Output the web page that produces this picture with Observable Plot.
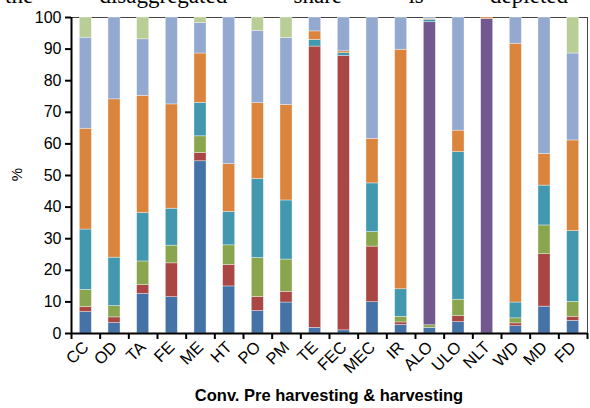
<!DOCTYPE html>
<html><head><meta charset="utf-8">
<script src="https://cdn.jsdelivr.net/npm/d3@7"></script>
<script src="https://cdn.jsdelivr.net/npm/@observablehq/plot@0.6"></script>
<style>
body{margin:0;background:#fff}
#wrap{position:relative;width:590px;height:408px;overflow:hidden;background:#fff}
#top{position:absolute;left:5px;top:-16px;width:563px;font:23px/23px "Liberation Serif","Times New Roman",serif;text-align:justify;text-align-last:justify;color:#000;z-index:2}
#pct{position:absolute;left:10px;top:166px;font:15px "Liberation Sans",Arial,sans-serif;transform:rotate(-90deg);color:#000}
#xt{position:absolute;left:71px;width:516px;top:386px;text-align:center;font:bold 16.5px "Liberation Sans",Arial,sans-serif;color:#000}
#chart{position:absolute;left:0;top:0}
</style></head>
<body><div id="wrap">
<div id="top">the disaggregated share is depleted</div>
<div id="chart"></div>
<div id="pct">%</div>
<div id="xt">Conv. Pre harvesting &amp; harvesting</div>
</div>
<script>
const categories = ["CC","OD","TA","FE","ME","HT","PO","PM","TE","FEC","MEC","IR","ALO","ULO","NLT","WD","MD","FD"];
const seriesNames = ["Series 1","Series 2","Series 3","Series 4","Series 5","Series 6","Series 7","Series 8"];
const seriesColors = ["#4572A7","#AA4643","#89A54E","#71588F","#4198AF","#DB843D","#93A9CF","#B9CD96"];
const s1 = [6.8,3.3,12.5,11.5,54.5,14.9,7.1,9.8,1.8,1.0,9.9,2.7,1.8,3.6,0,2.3,8.5,4.0];
const s2 = [1.6,1.8,2.8,10.7,2.6,6.8,4.5,3.4,89.0,86.8,17.6,0.8,0,1.9,0,0.9,16.6,1.3];
const s3 = [5.4,3.6,7.5,5.6,5.3,6.2,12.3,10.2,0,0,4.6,1.8,0.8,5.2,0,1.6,9.1,4.7];
const s4 = [0,0,0,0,0,0,0,0,0,0,0,0,95.9,0,99.5,0,0,0];
const s5 = [19.1,15.3,15.3,11.7,10.6,10.6,25.0,18.7,2.1,0.9,15.4,8.7,0.8,46.7,0,5.0,12.6,22.4];
const s6 = [31.9,50.1,37.1,33.0,15.6,15.1,24.0,30.2,2.7,0.6,14.1,75.8,0.3,6.8,0.5,81.9,10.0,28.7];
const s7 = [28.8,25.9,17.9,27.5,9.7,46.4,22.9,21.2,4.4,10.7,38.4,10.2,0.4,35.8,0,8.3,43.2,27.5];
const s8 = [6.4,0,6.9,0,1.7,0,4.2,6.5,0,0,0,0,0,0,0,0,0,11.4];
const yTicks = [0,10,20,30,40,50,60,70,80,90,100];

const seriesValues = [s1,s2,s3,s4,s5,s6,s7,s8];
const rows = [];
seriesValues.forEach((vals, k) => vals.forEach((v, i) => rows.push({i, category: categories[i], series: seriesNames[k], value: v})));

const half = 0.21;
const chart = Plot.plot({
  width: 590, height: 408,
  marginLeft: 71, marginRight: 3, marginTop: 17, marginBottom: 75,
  x: {domain: [-0.5, categories.length - 0.5], axis: null},
  y: {domain: [0, 100], axis: null},
  color: {domain: seriesNames, range: seriesColors},
  style: {fontFamily: "'Liberation Sans', Arial, sans-serif", fontSize: "15px", color: "#000", background: "transparent"},
  marks: [
    Plot.frame({stroke: "#444", strokeWidth: 1}),
    Plot.rectY(rows, Plot.stackY({x1: d => d.i - half, x2: d => d.i + half, y: "value", fill: "series", stroke: "white", strokeWidth: 0.6, strokeOpacity: 0.6})),
    Plot.axisY({ticks: yTicks, tickSize: 6, tickPadding: 4, strokeWidth: 2, label: null, fontSize: 16}),
    Plot.axisX({ticks: d3.range(-0.5, categories.length, 1), tickSize: 6, tickFormat: () => "", strokeWidth: 2, label: null}),
    Plot.axisX({ticks: d3.range(categories.length), tickSize: 0, tickPadding: 11, tickRotate: -45, tickFormat: i => categories[i], label: null, fontSize: 16.5}),
    Plot.ruleX([-0.5], {stroke: "black", strokeWidth: 2}),
    Plot.ruleY([0], {stroke: "black", strokeWidth: 2})
  ]
});
document.getElementById("chart").appendChild(chart);
</script>
</body></html>
